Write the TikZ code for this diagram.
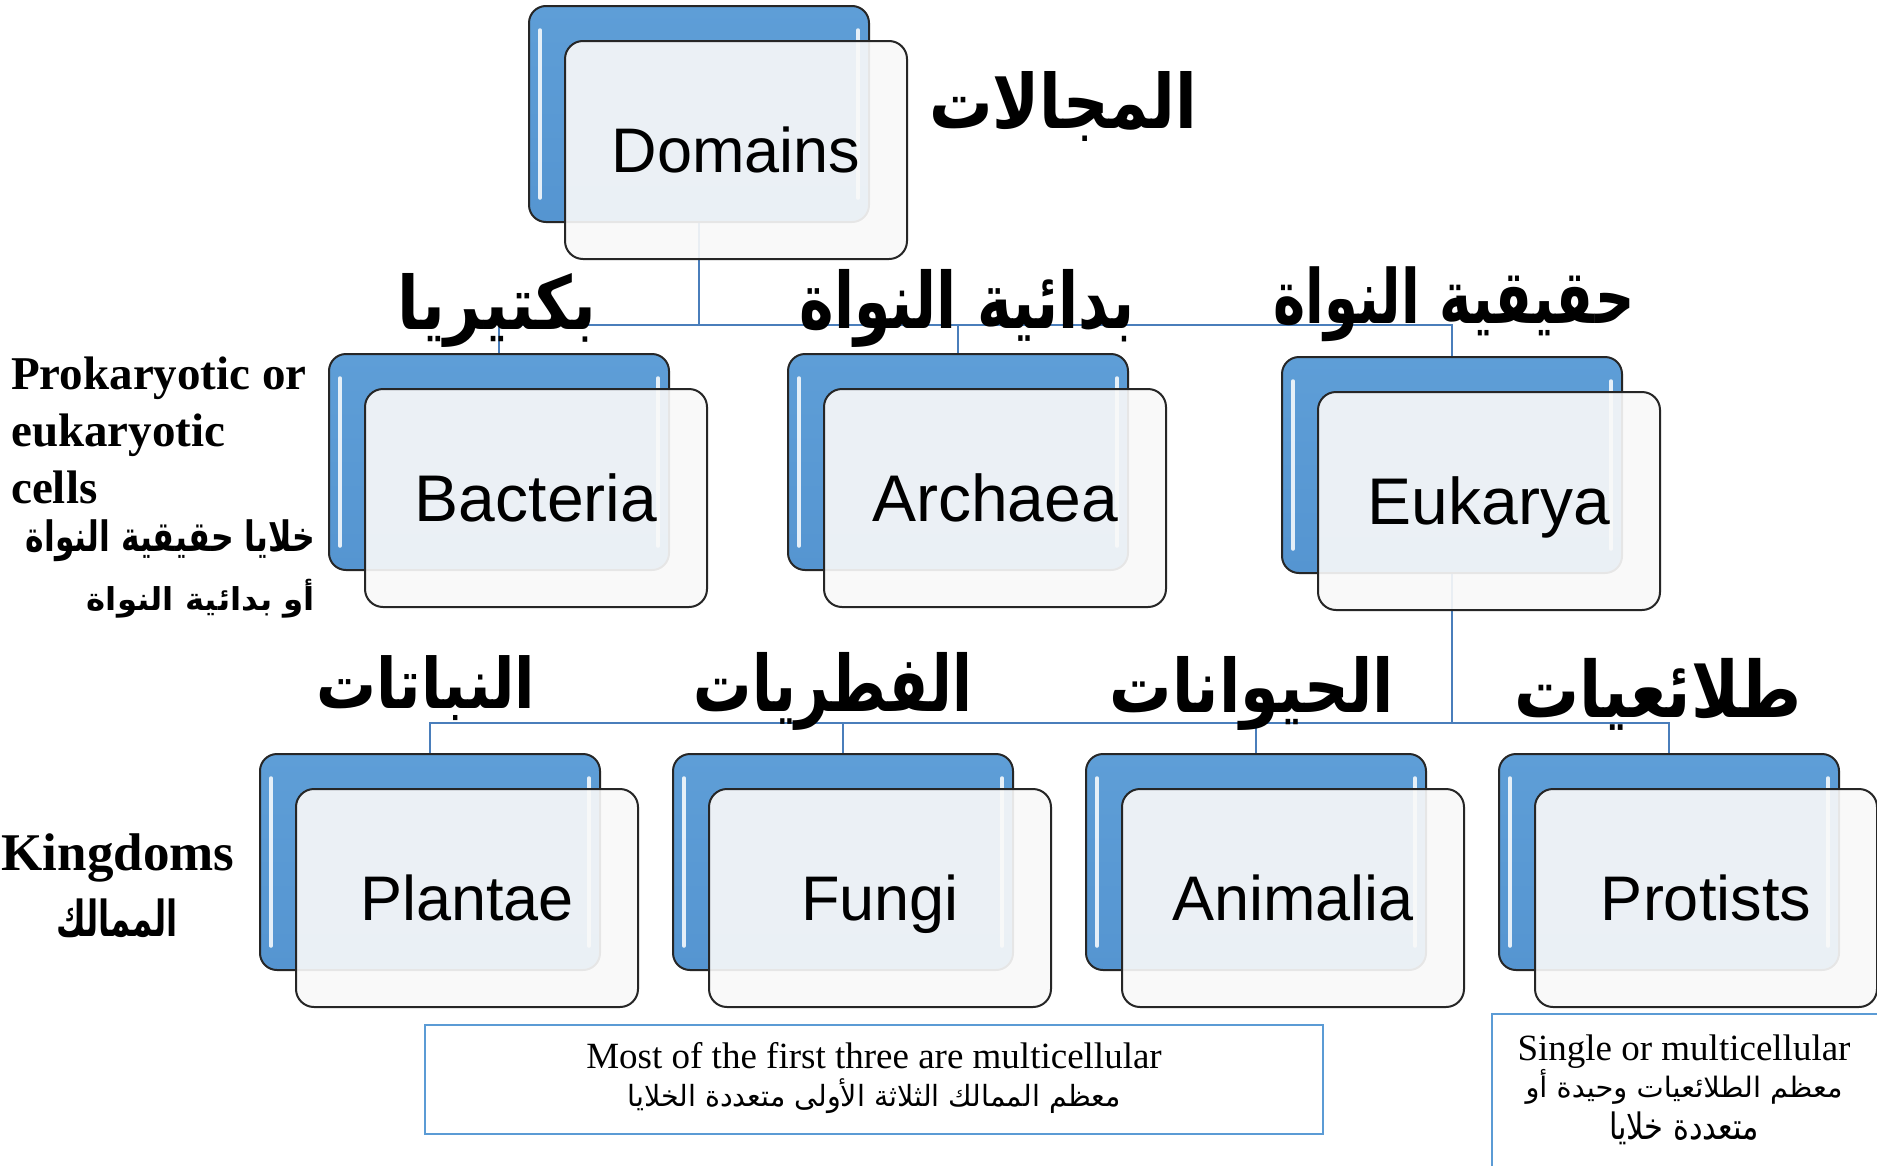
\documentclass[tikz,border=0pt]{standalone}
\usepackage{graphicx}
\usepackage{fontspec}
\setmainfont{Liberation Serif}
\newfontfamily\arial{Liberation Sans}
\newfontfamily\arabicfont[Script=Arabic]{DejaVu Sans}
\TeXXeTstate=1
\usetikzlibrary{calc}
\definecolor{boxblueT}{HTML}{5E9ED7}
\definecolor{boxblueB}{HTML}{5595D1}
\definecolor{frontfill}{HTML}{F9F9F9}
\definecolor{connblue}{HTML}{4A7EBB}
\definecolor{noteblue}{HTML}{5B9BD5}
\pgfdeclarelayer{bgzero}
\pgfdeclarelayer{bgone}
\pgfsetlayers{bgzero,bgone,main}
\newcommand{\arb}[3]{\resizebox*{#1bp}{#2bp}{\arabicfont\bfseries #3}}
\newcommand{\arr}[3]{\resizebox*{#1bp}{#2bp}{\arabicfont #3}}
\tikzset{
  backbox/.style={draw=black!85, line width=2bp, rounded corners=17bp,
    minimum width=340bp, minimum height=216bp, inner sep=0,
    top color=boxblueT, bottom color=boxblueB,
    path picture={
      \draw[white, line width=3.5bp, opacity=0.85, line cap=round]
        ([xshift=11bp,yshift=-24bp]path picture bounding box.north west) --
        ([xshift=11bp,yshift=24bp]path picture bounding box.south west);
      \draw[white, line width=3.5bp, opacity=0.85, line cap=round]
        ([xshift=-11bp,yshift=-24bp]path picture bounding box.north east) --
        ([xshift=-11bp,yshift=24bp]path picture bounding box.south east);}},
  frontbox/.style={draw=black!85, line width=2bp, rounded corners=18bp,
    minimum width=342bp, minimum height=218bp, inner sep=0, text depth=0pt,
    fill=frontfill, fill opacity=0.915, text opacity=1},
  bigtxt/.style={font=\arial\fontsize{63bp}{70bp}\selectfont},
  midtxt/.style={font=\arial\fontsize{66bp}{72bp}\selectfont},
  conn/.style={draw=connblue, line width=2.2bp},
  notebox/.style={draw=noteblue, line width=2.5bp, fill=white, inner sep=0},
  lbl/.style={inner sep=0},
  engnote/.style={font=\fontsize{37bp}{40bp}\selectfont, align=center, inner sep=0},
}
\begin{document}
\begin{tikzpicture}[x=1bp, y=-1bp]
\useasboundingbox (0,0) rectangle (1877,1165);
\begin{pgfonlayer}{bgzero}
  \fill[white] (0,0) rectangle (1877,1165);
\end{pgfonlayer}

% Domains
\node[backbox] (domB) at (699,114) {};
\node[frontbox, bigtxt] (domF) at ($(domB)+(37,36)$) {Domains};

% Level 2
\node[backbox] (bacB) at (499,462) {};
\node[frontbox, midtxt] (bacF) at ($(bacB)+(37,36)$) {Bacteria};
\node[backbox] (arcB) at (958,462) {};
\node[frontbox, midtxt] (arcF) at ($(arcB)+(37,36)$) {Archaea};
\node[backbox] (eukB) at (1452,465) {};
\node[frontbox, midtxt] (eukF) at ($(eukB)+(37,36)$) {Eukarya};

% Level 3
\node[backbox] (plaB) at (430,862) {};
\node[frontbox, bigtxt] (plaF) at ($(plaB)+(37,36)$) {Plantae};
\node[backbox] (funB) at (843,862) {};
\node[frontbox, bigtxt] (funF) at ($(funB)+(37,36)$) {Fungi};
\node[backbox] (aniB) at (1256,862) {};
\node[frontbox, bigtxt] (aniF) at ($(aniB)+(37,36)$) {Animalia};
\node[backbox] (proB) at (1669,862) {};
\node[frontbox, bigtxt] (proF) at ($(proB)+(37,36)$) {Protists};

% connectors
\coordinate (midA) at (0,325);
\coordinate (midB) at (0,723);
\begin{pgfonlayer}{bgone}
  \draw[conn] (domB.south) -- (domB.south |- midA) -| (bacB.north);
  \draw[conn] (domB.south) -- (domB.south |- midA) -| (arcB.north);
  \draw[conn] (domB.south) -- (domB.south |- midA) -| (eukB.north);
  \draw[conn] (eukB.south) -- (eukB.south |- midB) -| (plaB.north);
  \draw[conn] (eukB.south) -- (eukB.south |- midB) -| (funB.north);
  \draw[conn] (eukB.south) -- (eukB.south |- midB) -| (aniB.north);
  \draw[conn] (eukB.south) -- (eukB.south |- midB) -| (proB.north);
\end{pgfonlayer}

% Arabic headings
\node[lbl] (domAr) at (1063,106) {\arb{268}{70}{\beginR المجالات\endR}};
\node[lbl] (bacAr) at (497,310) {\arb{199}{74}{\beginR بكتيريا\endR}};
\node[lbl] (arcAr) at (967,308) {\arb{335}{78}{\beginR بدائية النواة\endR}};
\node[lbl] (eukAr) at (1454,304) {\arb{361}{75}{\beginR حقيقية النواة\endR}};
\node[lbl] (plaAr) at (426,688) {\arb{219}{65}{\beginR النباتات\endR}};
\node[lbl] (funAr) at (833,691) {\arb{278}{78}{\beginR الفطريات\endR}};
\node[lbl] (aniAr) at (1252,693) {\arb{284}{74}{\beginR الحيوانات\endR}};
\node[lbl] (proAr) at (1658,694) {\arb{287}{72}{\beginR طلائعيات\endR}};

% left labels
\node[anchor=north west, align=left, inner sep=0,
  font=\bfseries\fontsize{47bp}{57bp}\selectfont] (prok) at (11,357)
  {Prokaryotic or\\eukaryotic\\cells};
\node[lbl, anchor=east] (prokArA) at (315,541) {\arb{289}{42}{\beginR خلايا حقيقية النواة\endR}};
\node[lbl, anchor=east] (prokArB) at (315,599) {\arb{228}{39}{\beginR أو بدائية النواة\endR}};
\node[inner sep=0, font=\bfseries\fontsize{53bp}{60bp}\selectfont] (king) at (118,858) {Kingdoms};
\node[lbl] (kingAr) at (117,918) {\arb{121}{39}{\beginR الممالك\endR}};

% notes
\node[notebox, minimum width=898bp, minimum height=109bp] (noteA) at (874,1079.5) {};
\node[engnote] (noteAtxt) at (874,1078)
  {Most of the first three are multicellular\\[-2bp]\arr{493}{35}{\beginR معظم الممالك الثلاثة الأولى متعددة الخلايا\endR}};
\node[notebox, minimum width=400bp, minimum height=170bp] (noteB) at (1692,1099) {};
\node[engnote] (noteBtxt) at (1684,1090)
  {Single or multicellular\\[-3bp]\arr{317}{35}{\beginR معظم الطلائعيات وحيدة أو\endR}\\[2bp]\arr{150}{33}{\beginR متعددة خلايا\endR}};
\end{tikzpicture}
\end{document}
